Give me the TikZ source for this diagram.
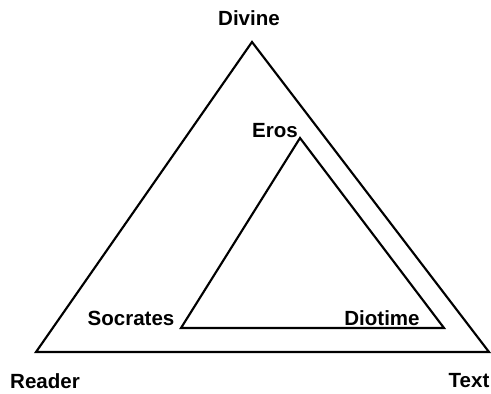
\documentclass[tikz,border=0pt]{standalone}
\usepackage{fontspec}
\setmainfont{Liberation Sans}
\usepackage{tikz}

\begin{document}
\begin{tikzpicture}[x=0.75pt, y=-0.75pt,
  lbl/.style={font=\fontsize{15.4}{18}\selectfont\bfseries, inner sep=0pt},
  tri/.style={draw=black, line width=1.6pt, line join=miter}]
\useasboundingbox (0,0) rectangle (491,393);
% Outer triangle
\coordinate (dv) at (252,42);
\coordinate (rd) at (36,352);
\coordinate (tx) at (489,352);
\draw[tri] (dv) -- (rd) -- (tx) -- cycle;
% Inner triangle
\coordinate (er) at (300,138);
\coordinate (so) at (181,328);
\coordinate (di) at (444,328);
\draw[tri] (er) -- (so) -- (di) -- cycle;
% Labels
\node[lbl] (divine) at (249,18) {Divine};
\node[lbl] (reader) at (45,381) {Reader};
\node[lbl] (text) at (469,381) {Text};
\node[lbl] (eros) at (275,131) {Eros};
\node[lbl] (socrates) at (131,318) {Socrates};
\node[lbl] (diotime) at (382,318) {Diotime};
\end{tikzpicture}
\end{document}
